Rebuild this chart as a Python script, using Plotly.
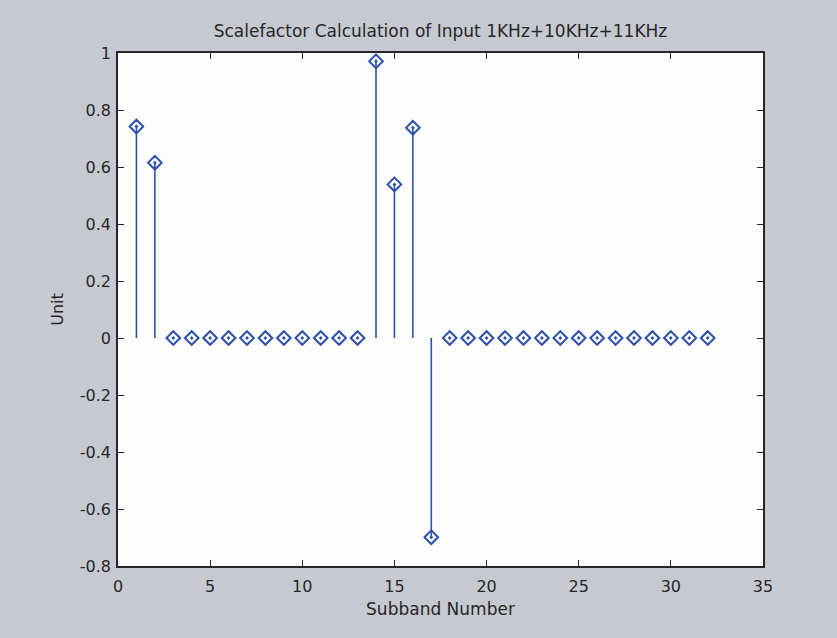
import plotly.graph_objects as go

# Scalefactor per subband (32 subbands)
subbands = list(range(1, 33))
scalefactors = [0.742, 0.615, 0, 0, 0, 0, 0, 0, 0, 0, 0, 0, 0,
                0.971, 0.539, 0.738, -0.699,
                0, 0, 0, 0, 0, 0, 0, 0, 0, 0, 0, 0, 0, 0, 0]

x_ticks = [0, 5, 10, 15, 20, 25, 30, 35]
y_ticks = [-0.8, -0.6, -0.4, -0.2, 0, 0.2, 0.4, 0.6, 0.8, 1]
y_tick_text = ["-0.8", "-0.6", "-0.4", "-0.2", "0", "0.2", "0.4", "0.6", "0.8", "1"]

STEM = "#2d50aa"
INK = "#262626"
FONT = "DejaVu Sans, Liberation Sans, sans-serif"

# stems: vertical segments from 0 to each value
sx, sy = [], []
for x, v in zip(subbands, scalefactors):
    sx += [x, x, None]
    sy += [0, v, None]

fig = go.Figure()
fig.add_trace(go.Scatter(x=sx, y=sy, mode="lines",
                         line=dict(color=STEM, width=1.6),
                         hoverinfo="skip", showlegend=False))
fig.add_trace(go.Scatter(x=subbands, y=scalefactors, mode="markers",
                         marker=dict(symbol="diamond-open-dot", size=10.5,
                                     color=STEM, line=dict(width=2)),
                         showlegend=False))

axis_common = dict(showgrid=False, zeroline=False, showline=True,
                   linecolor=INK, linewidth=1.5, mirror="ticks",
                   ticks="inside", ticklen=6, tickwidth=1.3, tickcolor=INK,
                   tickfont=dict(family=FONT, size=16, color=INK))

fig.update_xaxes(range=[0, 35], tickvals=x_ticks, ticklabelstandoff=5,
                 title=dict(text="Subband Number", standoff=8,
                            font=dict(family=FONT, size=17, color=INK)),
                 **axis_common)
fig.update_yaxes(range=[-0.8, 1], tickvals=y_ticks, ticktext=y_tick_text,
                 ticklabelstandoff=2,
                 title=dict(text="Unit", standoff=12,
                            font=dict(family=FONT, size=16, color=INK)),
                 **axis_common)

fig.update_layout(
    width=837, height=638,
    margin=dict(l=118, r=74, t=53, b=72),
    paper_bgcolor="#c7c9d2",
    plot_bgcolor="#fdfdfe",
    title=dict(text="Scalefactor Calculation of Input 1KHz+10KHz+11KHz",
               xref="paper", x=0.5, xanchor="center",
               y=0.952, yanchor="middle",
               font=dict(family=FONT, size=17, color=INK)),
)

fig.write_html("out.html")
